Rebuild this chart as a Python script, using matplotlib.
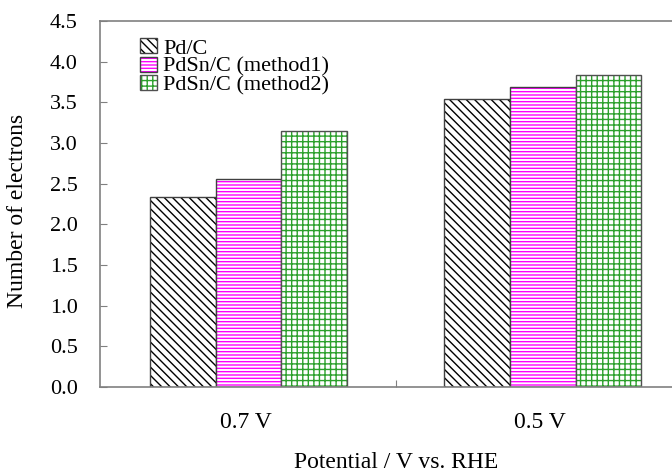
import matplotlib
matplotlib.use("Agg")
import matplotlib.pyplot as plt
from matplotlib.legend_handler import HandlerTuple
import numpy as np

plt.rcParams["font.family"] = ["Liberation Serif", "DejaVu Serif"]
plt.rcParams["hatch.linewidth"] = 1.0

potentials = ["0.7 V", "0.5 V"]
series = ["Pd/C", "PdSn/C (method1)", "PdSn/C (method2)"]
pd_c = [2.33, 3.54]
pdsn_m1 = [2.56, 3.69]
pdsn_m2 = [3.15, 3.84]

colors = ["#000000", "#ff00ff", "#2ca02c"]
hatches = ["\\\\\\\\", "-----", "+++"]
outline = ["#404040", "#404040", "#505050"]

fig = plt.figure(figsize=(6.72, 4.72), dpi=100)
ax = fig.add_axes([100 / 672, 85 / 472, 590 / 672, 366 / 472])

x = np.arange(len(potentials))
w = 0.223
handles = []
for i, (vals, c, h, oc) in enumerate(zip([pd_c, pdsn_m1, pdsn_m2], colors, hatches, outline)):
    pos = x + (i - 1) * w
    b1 = ax.bar(pos, vals, w, facecolor="white", edgecolor=c, hatch=h, linewidth=0)
    b2 = ax.bar(pos, vals, w, fill=False, edgecolor=oc, linewidth=1.0)
    handles.append((b1, b2))

ax.set_xlim(-0.505, 1.5)
ax.set_ylim(0, 4.5)
yt = np.arange(0, 4.51, 0.5)
ax.set_yticks(yt)
ax.set_yticklabels([f"{v:.1f}" for v in yt], fontsize=16)
ax.tick_params(axis="y", direction="in", length=5, color="#808080", pad=16)

ax.set_xticks([0.5])
ax.set_xticklabels([""])
ax.tick_params(axis="x", direction="in", length=5, color="#808080")
for xi, lab in zip(x, potentials):
    ax.text(xi - 0.01, -0.44, lab, ha="center", va="center", fontsize=17)
ax.text(0.5, -0.93, "Potential / V vs. RHE", ha="center", va="center", fontsize=17)

ax.set_ylabel("Number of electrons", fontsize=17)
ax.yaxis.set_label_coords(-0.122, 0.48)

for s in ax.spines.values():
    s.set_color("#808080")
    s.set_linewidth(1.2)

ax.legend(handles, series, handler_map={tuple: HandlerTuple(ndivide=1, pad=0)},
          loc="upper left", bbox_to_anchor=(0.053, 0.977), frameon=False, fontsize=16,
          handlelength=0.75, handleheight=0.65, handletextpad=0.3, labelspacing=-0.08,
          borderaxespad=0)

fig.savefig("out.png", dpi=100)
